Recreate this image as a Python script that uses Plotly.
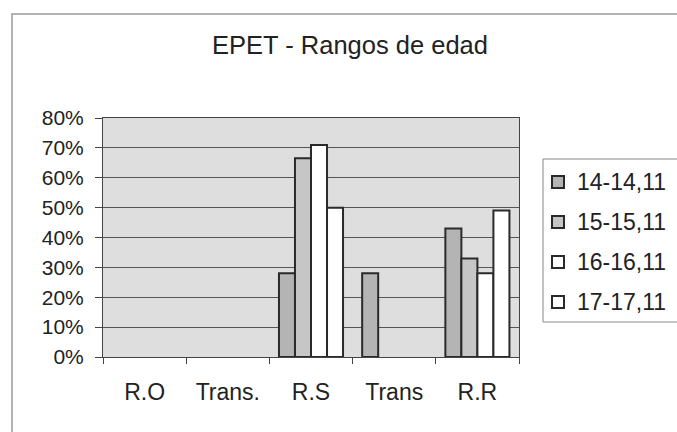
import plotly.graph_objects as go

categories = ["R.O", "Trans.", "R.S", "Trans", "R.R"]
series_names = ["14-14,11", "15-15,11", "16-16,11", "17-17,11"]
s_14 = [None, None, 0.28, 0.28, 0.43]
s_15 = [None, None, 0.665, None, 0.33]
s_16 = [None, None, 0.71, None, 0.28]
s_17 = [None, None, 0.50, None, 0.49]
colors = ["#b4b4b4", "#c6c6c6", "#ffffff", "#ffffff"]

FONT = "Liberation Sans, Arial, sans-serif"
L, R, T, B = 103, 519, 118, 357


def px(xp):
    return (xp - L) / (R - L)


def py(yp):
    return (B - yp) / (B - T)


fig = go.Figure()
for i, (name, vals) in enumerate(zip(series_names, [s_14, s_15, s_16, s_17])):
    fig.add_trace(go.Bar(
        x=categories, y=vals, name=name, showlegend=False,
        marker=dict(color=colors[i], line=dict(color="#2a2a2a", width=2)),
    ))

shapes = [
    # outer chart border (only left and top fall inside the picture)
    dict(type="rect", xref="paper", yref="paper",
         x0=px(12), x1=px(800), y0=py(500), y1=py(14),
         line=dict(color="#999999", width=1.5), layer="below"),
    # legend box
    dict(type="rect", xref="paper", yref="paper",
         x0=px(543), x1=px(720), y0=py(322), y1=py(159),
         line=dict(color="#888888", width=1), fillcolor="white"),
]
annotations = []
for i, name in enumerate(series_names):
    cy = 182 + 40 * i
    shapes.append(dict(type="rect", xref="paper", yref="paper",
                       x0=px(552), x1=px(564), y0=py(cy + 6), y1=py(cy - 6),
                       line=dict(color="#2a2a2a", width=2), fillcolor=colors[i]))
    annotations.append(dict(text=name, xref="paper", yref="paper", x=px(575), y=py(cy),
                            xanchor="left", yanchor="middle", showarrow=False,
                            font=dict(size=23, family=FONT, color="#222222")))

fig.update_layout(
    width=677, height=432,
    margin=dict(l=L, r=677 - R, t=T, b=432 - B),
    paper_bgcolor="white",
    plot_bgcolor="#dedede",
    barmode="group", bargap=0.23, bargroupgap=0,
    font=dict(family=FONT, color="#222222"),
    title=dict(text="EPET - Rangos de edad", x=350 / 677, xanchor="center",
               y=1 - 45 / 432, yanchor="middle",
               font=dict(size=25.5, family=FONT, color="#222222")),
    showlegend=False,
    xaxis=dict(type="category", showline=True, linecolor="#444444", linewidth=1,
               mirror=True, ticks="outside", ticklen=6, tickcolor="#444444",
               tickson="boundaries", ticklabelstandoff=14,
               tickfont=dict(size=23, family=FONT, color="#222222"),
               showgrid=False),
    yaxis=dict(range=[0, 0.8], dtick=0.1, tickformat=".0%", showline=True,
               linecolor="#444444", linewidth=1, mirror=True, ticks="outside",
               ticklen=7, tickcolor="#444444", gridcolor="#555555", gridwidth=1,
               ticklabelstandoff=7,
               tickfont=dict(size=21, family=FONT, color="#222222"), zeroline=False),
    shapes=shapes,
    annotations=annotations,
)

fig.write_html("out.html", config={"displayModeBar": False},
               post_script="document.body.style.margin='0';document.body.style.overflow='hidden';")
